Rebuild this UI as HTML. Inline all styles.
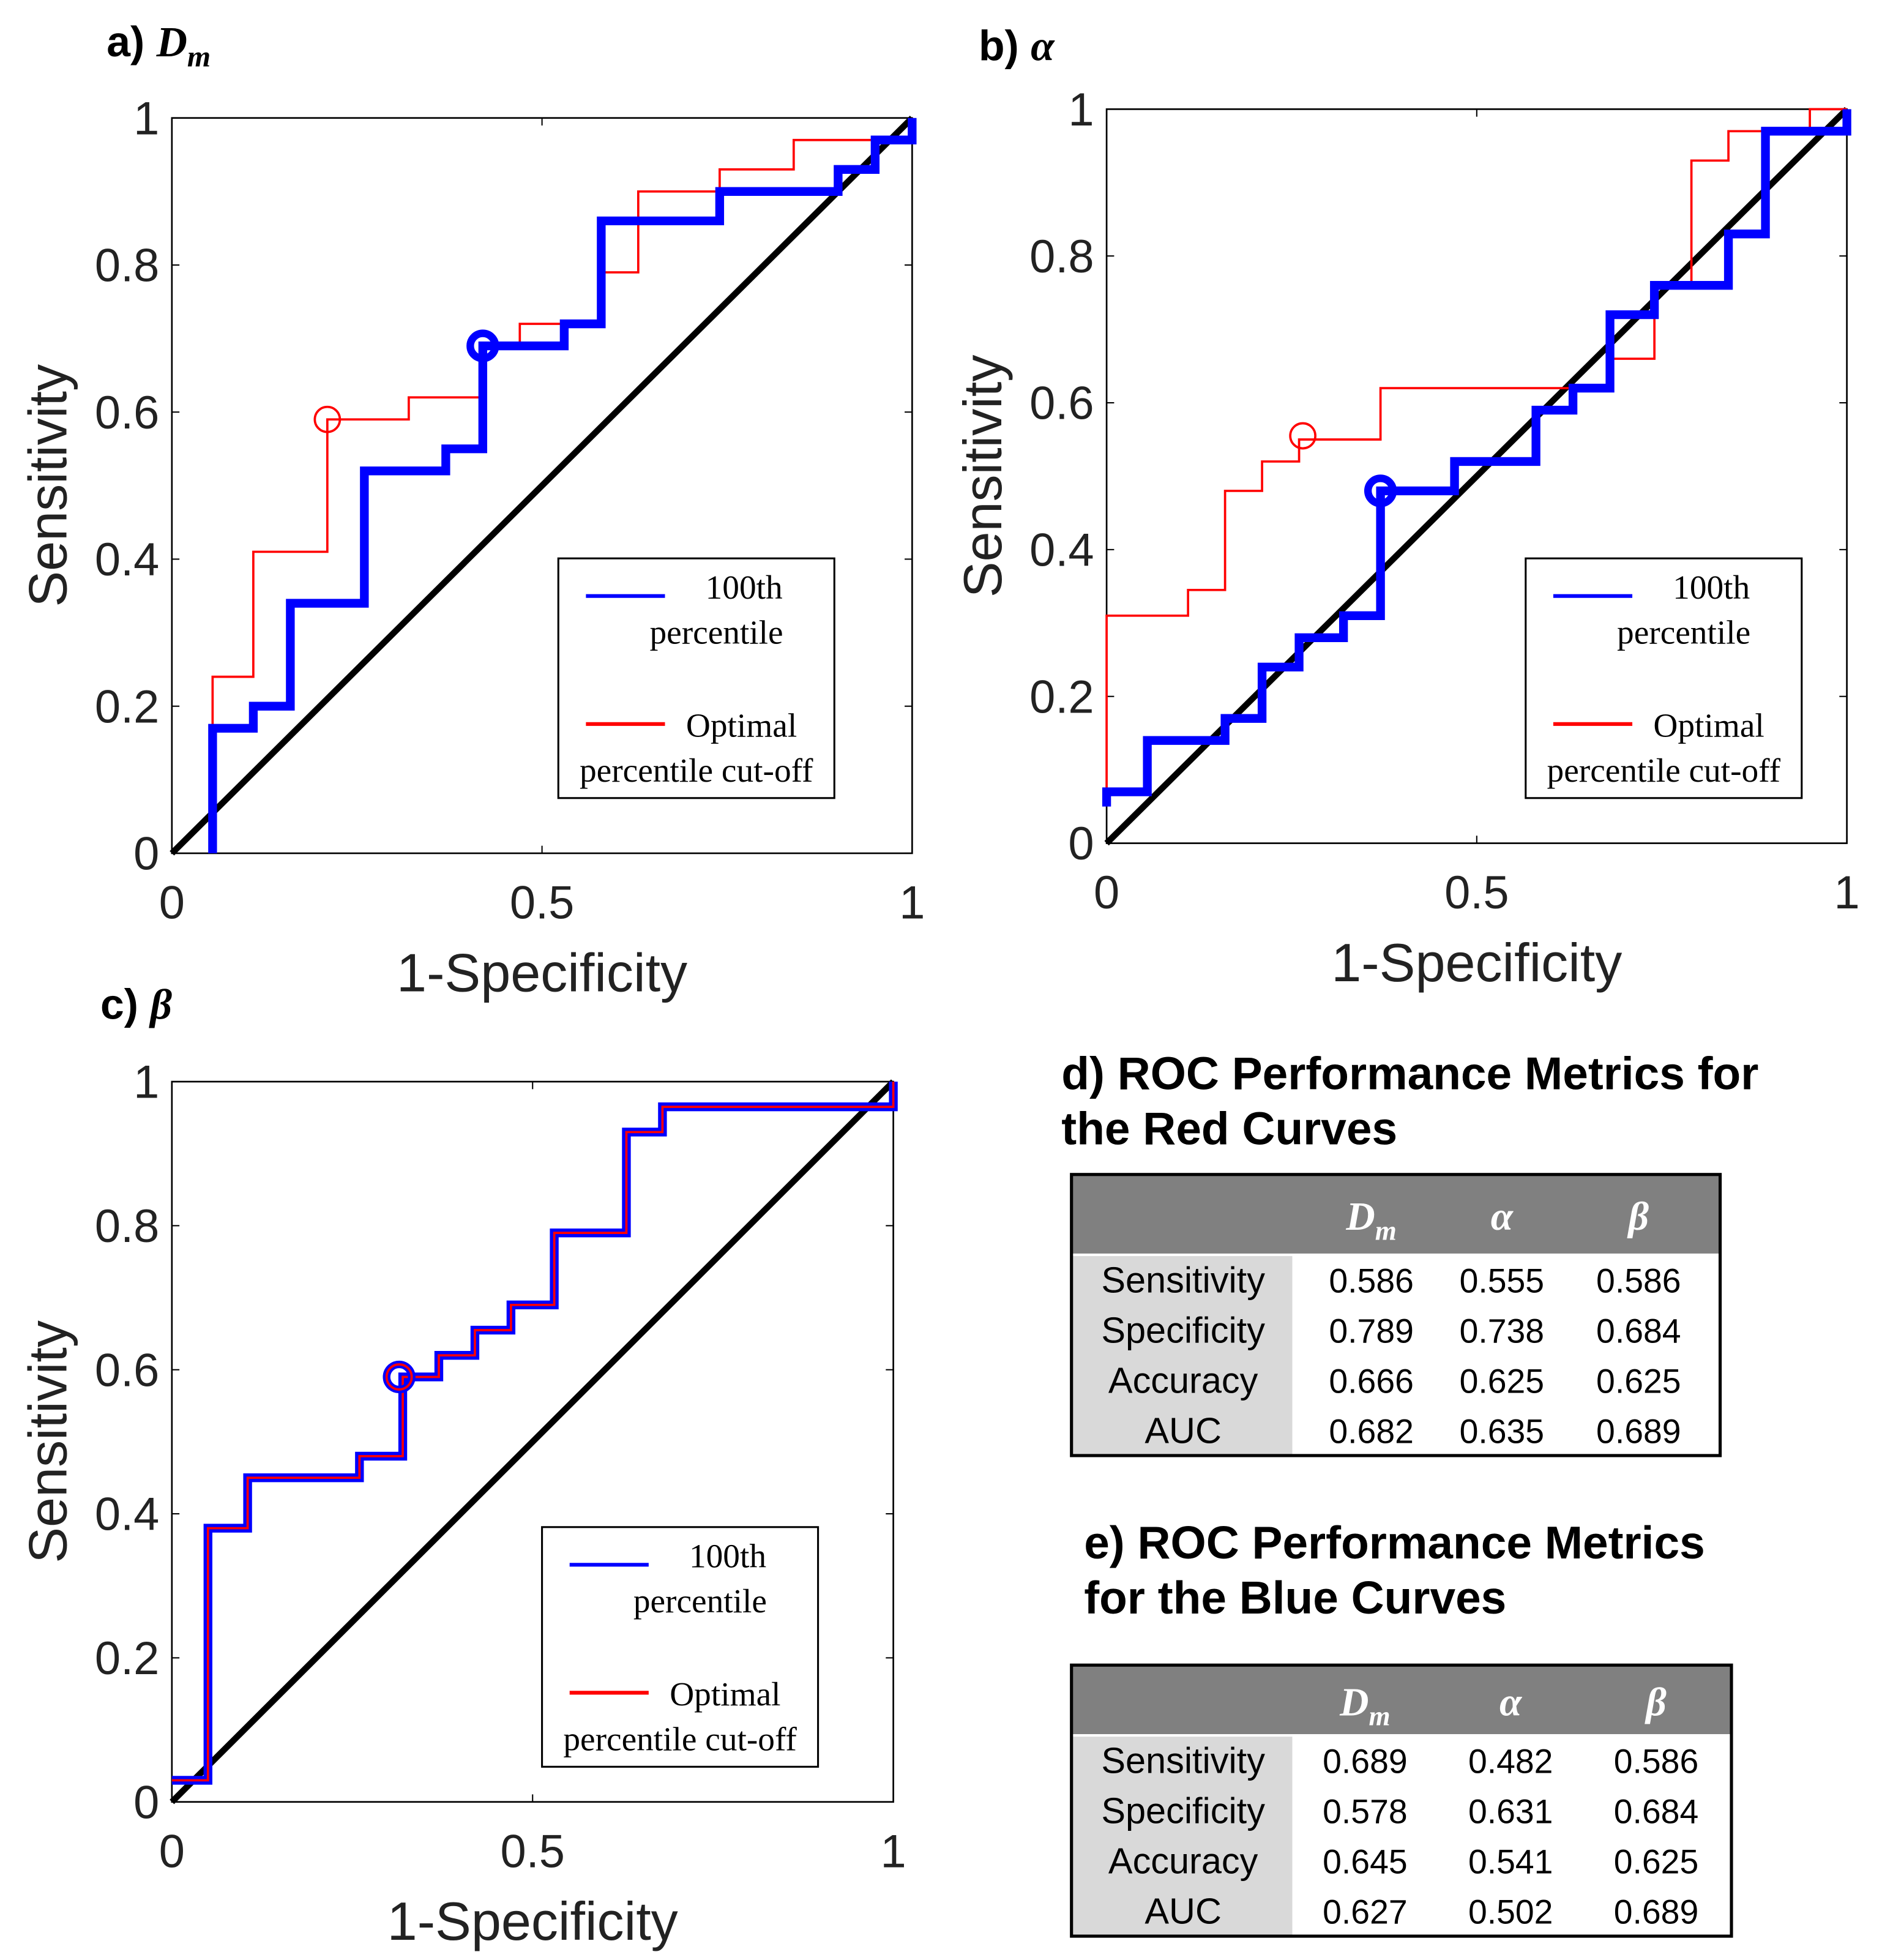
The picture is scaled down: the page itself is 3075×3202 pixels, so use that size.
<!DOCTYPE html>
<html><head><meta charset="utf-8"><style>
html,body{margin:0;padding:0;background:#fff;}
svg{display:block;}
text{font-family:"Liberation Sans",sans-serif;}
.serif{font-family:"Liberation Serif",serif;}
</style></head><body>
<svg id="fig" width="3075" height="3202" viewBox="0 0 1500 1562" preserveAspectRatio="none" xmlns="http://www.w3.org/2000/svg"></svg>
<script>
// Panel a (Dm)
const aBlueX=[0.055,0.055,0.11,0.11,0.16,0.16,0.26,0.26,0.37,0.37,0.42,0.42,0.53,0.53,0.58,0.58,0.74,0.74,0.9,0.9,0.95,0.95,1,1];
const aBlueY=[0,0.17,0.17,0.2,0.2,0.34,0.34,0.52,0.52,0.55,0.55,0.69,0.69,0.72,0.72,0.86,0.86,0.9,0.9,0.93,0.93,0.97,0.97,1];
const aRedX=[0.055,0.055,0.11,0.11,0.21,0.21,0.32,0.32,0.42,0.42,0.47,0.47,0.58,0.58,0.63,0.63,0.74,0.74,0.84,0.84,1,1];
const aRedY=[0,0.24,0.24,0.41,0.41,0.59,0.59,0.62,0.62,0.69,0.69,0.72,0.72,0.79,0.79,0.9,0.9,0.93,0.93,0.97,0.97,1];
const aRedPt=[0.21,0.59], aBluePt=[0.42,0.69];
// Panel b (alpha)
const bBlueX=[0,0,0.055,0.055,0.16,0.16,0.21,0.21,0.26,0.26,0.32,0.32,0.37,0.37,0.47,0.47,0.58,0.58,0.63,0.63,0.68,0.68,0.74,0.74,0.84,0.84,0.89,0.89,1,1];
const bBlueY=[0.05,0.07,0.07,0.14,0.14,0.17,0.17,0.24,0.24,0.28,0.28,0.31,0.31,0.48,0.48,0.52,0.52,0.59,0.59,0.62,0.62,0.72,0.72,0.76,0.76,0.83,0.83,0.97,0.97,1];
const bRedX=[0,0,0.11,0.11,0.16,0.16,0.21,0.21,0.26,0.26,0.37,0.37,0.68,0.68,0.74,0.74,0.79,0.79,0.84,0.84,0.95,0.95,1];
const bRedY=[0.05,0.31,0.31,0.345,0.345,0.48,0.48,0.52,0.52,0.55,0.55,0.62,0.62,0.66,0.66,0.76,0.76,0.93,0.93,0.97,0.97,1,1];
const bRedPt=[0.265,0.555], bBluePt=[0.37,0.48];
// Panel c (beta)
const cX=[0,0.05,0.05,0.105,0.105,0.26,0.26,0.32,0.32,0.37,0.37,0.42,0.42,0.47,0.47,0.53,0.53,0.63,0.63,0.68,0.68,1,1];
const cY=[0.03,0.03,0.38,0.38,0.45,0.45,0.48,0.48,0.59,0.59,0.62,0.62,0.655,0.655,0.69,0.69,0.79,0.79,0.93,0.93,0.965,0.965,1];
const cPt=[0.315,0.59];
const ticksX=[0,0.5,1], ticksXLabels=["0","0.5","1"];
const ticksY=[0,0.2,0.4,0.6,0.8,1], ticksYLabels=["0","0.2","0.4","0.6","0.8","1"];
// Tables
const tblCols=["D","α","β"];
const rowNames=["Sensitivity","Specificity","Accuracy","AUC"];
const redVals=[["0.586","0.555","0.586"],["0.789","0.738","0.684"],["0.666","0.625","0.625"],["0.682","0.635","0.689"]];
const blueVals=[["0.689","0.482","0.586"],["0.578","0.631","0.684"],["0.645","0.541","0.625"],["0.627","0.502","0.689"]];

const NS="http://www.w3.org/2000/svg";
const svg=document.getElementById('fig');
function mk(tag,attrs,parent,txt){const e=document.createElementNS(NS,tag);for(const k in attrs)e.setAttribute(k,attrs[k]);if(txt!==undefined)e.textContent=txt;(parent||svg).appendChild(e);return e;}

function panel(id,L,R,B,T,curves,pts,legY,legBox){
  const g=mk('g',{});
  
  
  const sx=v=>L+v*(R-L), sy=v=>B-v*(B-T);
  const fr=mk('rect',{x:L,y:T,width:R-L,height:B-T,fill:'none',stroke:'#000','stroke-width':1.3},g);
  
  
  ticksX.forEach((t,i)=>{
    mk('line',{x1:sx(t),x2:sx(t),y1:B,y2:B-6,stroke:'#000','stroke-width':1},g);
    mk('line',{x1:sx(t),x2:sx(t),y1:T,y2:T+6,stroke:'#000','stroke-width':1},g);
    const tx=mk('text',{x:sx(t),y:B+52,'font-size':37,'text-anchor':'middle',fill:'#222'},g,ticksXLabels[i]);
    
    
  });
  ticksY.forEach((t,i)=>{
    mk('line',{x1:L,x2:L+6,y1:sy(t),y2:sy(t),stroke:'#000','stroke-width':1},g);
    mk('line',{x1:R,x2:R-6,y1:sy(t),y2:sy(t),stroke:'#000','stroke-width':1},g);
    const ty=mk('text',{x:L-10,y:sy(t)+13,'font-size':37,'text-anchor':'end',fill:'#222'},g,ticksYLabels[i]);
    
    
  });
  const xt=mk('text',{x:(L+R)/2,y:B+110,'font-size':43,'text-anchor':'middle',fill:'#222'},g,'1-Specificity');
  
  
  const yt=mk('text',{x:0,y:0,'font-size':43,'text-anchor':'middle',fill:'#222',transform:`translate(${L-84},${(T+B)/2}) rotate(-90)`},g,'Sensitivity');
  
  
  const diag=mk('line',{x1:sx(0),y1:sy(0),x2:sx(1),y2:sy(1),stroke:'#000','stroke-width':5},g);
  
  
  curves.forEach(c=>{
    const d=c.xs.map((x,i)=>(i?'L':'M')+sx(x)+' '+sy(c.ys[i])).join(' ');
    const p=mk('path',{d:d,fill:'none',stroke:c.color,'stroke-width':c.w},g);
    
    
  });
  pts.forEach(pt=>{
    const c=mk('circle',{cx:sx(pt.p[0]),cy:sy(pt.p[1]),r:10,fill:'none',stroke:pt.color,'stroke-width':pt.w},g);
    
    
  });
  const [lx,ly,lw,lh]=legBox;
  const lg=mk('g',{},g);
  
  
  mk('rect',{x:lx,y:ly,width:lw,height:lh,fill:'#fff',stroke:'#000','stroke-width':1.5},lg);
  mk('line',{x1:lx+22,x2:lx+85,y1:ly+30,y2:ly+30,stroke:'#0000ff','stroke-width':3},lg);
  mk('text',{x:lx+148,y:ly+32,'font-size':27,'text-anchor':'middle',class:'serif'},lg,'100th');
  mk('text',{x:lx+126,y:ly+68,'font-size':27,'text-anchor':'middle',class:'serif'},lg,'percentile');
  mk('line',{x1:lx+22,x2:lx+85,y1:ly+132,y2:ly+132,stroke:'#ff0000','stroke-width':3},lg);
  mk('text',{x:lx+146,y:ly+142,'font-size':27,'text-anchor':'middle',class:'serif'},lg,'Optimal');
  mk('text',{x:lx+lw/2,y:ly+178,'font-size':27,'text-anchor':'middle',class:'serif'},lg,'percentile cut-off');
}

panel('a',137,727,680,94,
 [{xs:aRedX,ys:aRedY,color:'#ff0000',w:1.8,name:'red-curve'},{xs:aBlueX,ys:aBlueY,color:'#0000ff',w:7,name:'blue-curve'}],
 [{p:aRedPt,color:'#ff0000',w:1.8,name:'red-optimal-point'},{p:aBluePt,color:'#0000ff',w:6,name:'blue-optimal-point'}],0,[445,445,220,191]);
panel('b',882,1472,672,87,
 [{xs:bRedX,ys:bRedY,color:'#ff0000',w:1.8,name:'red-curve'},{xs:bBlueX,ys:bBlueY,color:'#0000ff',w:7,name:'blue-curve'}],
 [{p:bRedPt,color:'#ff0000',w:1.8,name:'red-optimal-point'},{p:bBluePt,color:'#0000ff',w:6,name:'blue-optimal-point'}],0,[1216,445,220,191]);
panel('c',137,712,1436,862,
 [{xs:cX,ys:cY,color:'#0000ff',w:7,name:'blue-curve'},{xs:cX,ys:cY,color:'#ff0000',w:1.8,name:'red-curve'}],
 [{p:cPt,color:'#0000ff',w:6,name:'blue-optimal-point'},{p:cPt,color:'#ff0000',w:1.8,name:'red-optimal-point'}],0,[432,1217,220,191]);

function label(x,y,letter,sym,name){
  const t=mk('text',{x:x,y:y,'font-size':34,'font-weight':'bold'});
  
  
  mk('tspan',{},t,letter+') ');
  mk('tspan',{class:'serif','font-style':'italic'},t,sym);
  return t;
}
const la=label(85,45,'a','D','panel-a-title');
mk('tspan',{class:'serif','font-style':'italic','font-size':24,dy:8},la,'m');
label(780,48,'b','α','panel-b-title');
label(80,812,'c','β','panel-c-title');

function table(x,y,w,hh,rh,vals,name,colX){
  const g=mk('g',{});
  
  
  const H=hh+rh*4;
  mk('rect',{x:x,y:y,width:w,height:hh,fill:'#808080'},g);
  mk('rect',{x:x,y:y+hh,width:176,height:rh*4,fill:'#d9d9d9'},g);
  mk('line',{x1:x,x2:x+w,y1:y+hh,y2:y+hh,stroke:'#fff','stroke-width':2},g);
  mk('rect',{x:x,y:y,width:w,height:H,fill:'none',stroke:'#000','stroke-width':2.5},g);
  tblCols.forEach((c,i)=>{
    const t=mk('text',{x:colX[i],y:y+hh/2+12,'font-size':32,'font-weight':'bold','font-style':'italic',fill:'#fff','text-anchor':'middle',class:'serif'},g,c);
    
    
    if(i===0) mk('tspan',{'font-size':22,dy:8},t,'m');
  });
  rowNames.forEach((r,j)=>{
    const cy=y+hh+rh*j+rh/2+10;
    const t=mk('text',{x:x+89,y:cy,'font-size':29,'text-anchor':'middle',fill:'#000'},g,r);
    
    
    vals[j].forEach((v,i)=>{
      const c=mk('text',{x:colX[i],y:cy,'font-size':27,'text-anchor':'middle',fill:'#000'},g,v);
      
      
    });
  });
}
function title(x,y,l1,l2,name){
  const t=mk('text',{x:x,y:y,'font-size':36.5,'font-weight':'bold'},svg,l1);
  
  
  const t2=mk('text',{x:x,y:y+44,'font-size':36.5,'font-weight':'bold'},svg,l2);
  
  
}
title(846,868,'d) ROC Performance Metrics for','the Red Curves','table-d-title');
table(854,936,517,64,40,redVals,'table-red-metrics',[1093,1197,1306]);
title(864,1242,'e) ROC Performance Metrics','for the Blue Curves','table-e-title');
table(854,1327,526,56,40,blueVals,'table-blue-metrics',[1088,1204,1320]);
</script>
</body></html>
